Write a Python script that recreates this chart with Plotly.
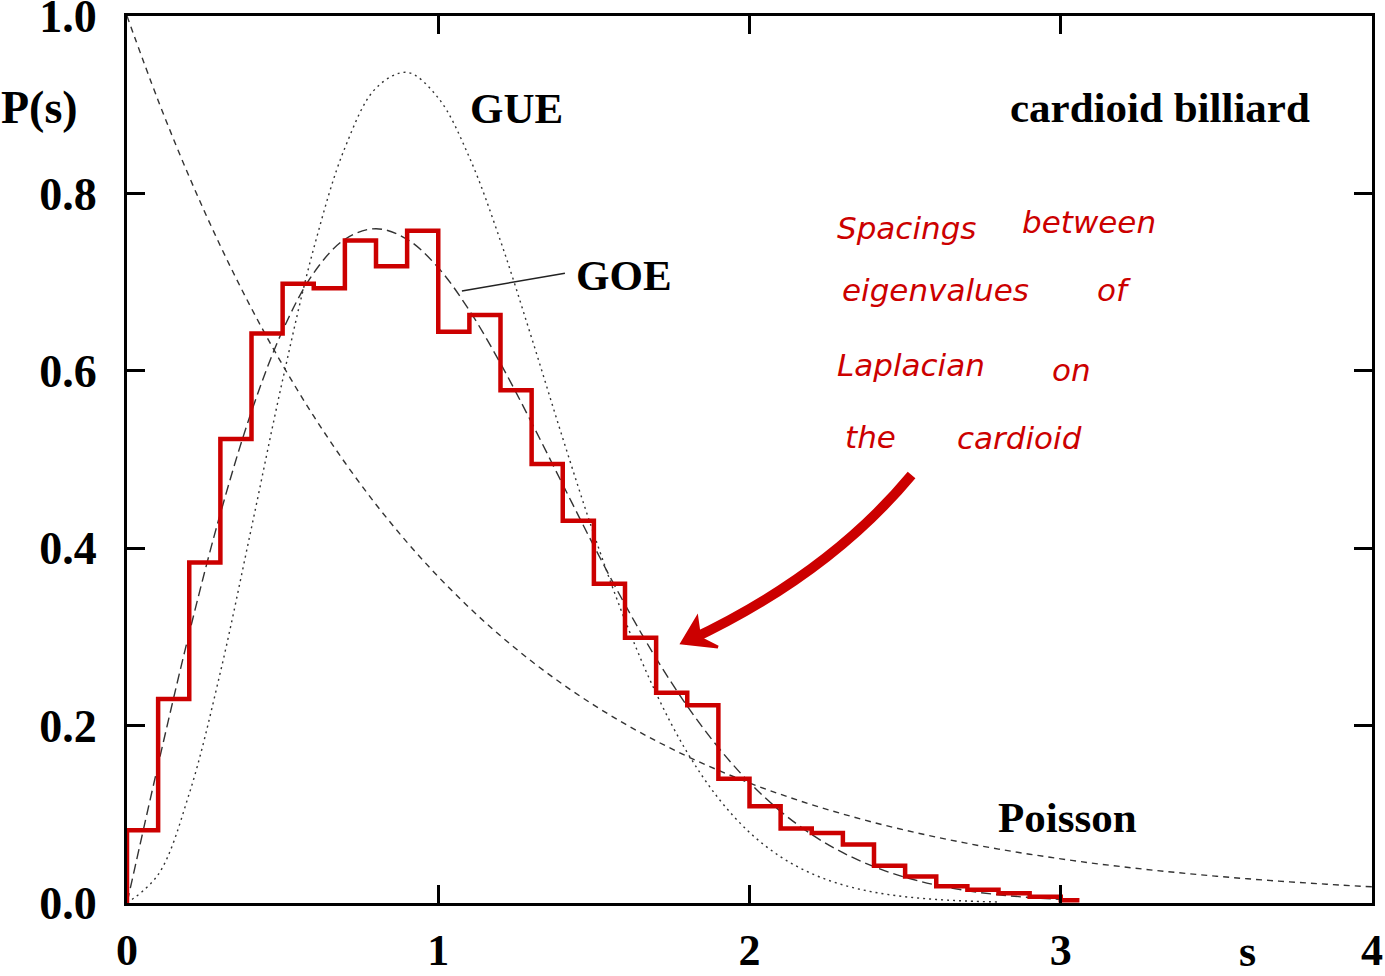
import plotly.graph_objects as go

# ---------------- data ----------------
bin_edges = [round(0.1 * i, 1) for i in range(31)]  # 0.0 .. 3.0
hist_heights = [0.082, 0.230, 0.384, 0.523, 0.642, 0.698, 0.693, 0.747, 0.718, 0.758,
                0.644, 0.663, 0.578, 0.495, 0.431, 0.360, 0.299, 0.237, 0.223, 0.140,
                0.109, 0.084, 0.079, 0.066, 0.042, 0.030, 0.019, 0.015, 0.011, 0.007]
red_tail_x = 3.06
red_tail_y = 0.003

s_poisson = [round(0.1 * i, 1) for i in range(41)]
p_poisson = [1.0, 0.9048, 0.8187, 0.7408, 0.6703, 0.6065, 0.5488, 0.4966, 0.4493, 0.4066,
             0.3679, 0.3329, 0.3012, 0.2725, 0.2466, 0.2231, 0.2019, 0.1827, 0.1653, 0.1496,
             0.1353, 0.1225, 0.1108, 0.1003, 0.0907, 0.0821, 0.0743, 0.0672, 0.0608, 0.0550,
             0.0498, 0.0450, 0.0408, 0.0369, 0.0334, 0.0302, 0.0273, 0.0247, 0.0224, 0.0202,
             0.0183]

s_goe = [round(0.1 * i, 1) for i in range(31)]
p_goe = [0.0, 0.1559, 0.3044, 0.4391, 0.5541, 0.6454, 0.7104, 0.7483, 0.7602, 0.7483,
         0.7162, 0.6680, 0.6083, 0.5415, 0.4718, 0.4025, 0.3365, 0.2759, 0.2220, 0.1753,
         0.1358, 0.1033, 0.0772, 0.0567, 0.0409, 0.0290, 0.0202, 0.0138, 0.0093, 0.0062,
         0.0040]

s_gue = [round(0.1 * i, 1) for i in range(29)]
p_gue = [0.0, 0.0320, 0.1233, 0.2602, 0.4232, 0.5896, 0.7381, 0.8513, 0.9187, 0.9364,
         0.9076, 0.8406, 0.7464, 0.6371, 0.5240, 0.4158, 0.3188, 0.2364, 0.1697, 0.1181,
         0.0796, 0.0521, 0.0331, 0.0204, 0.0122, 0.0071, 0.0040, 0.0022, 0.0011]

x_ticks = [0, 1, 2, 3, 4]
y_ticks = [0.0, 0.2, 0.4, 0.6, 0.8, 1.0]

note_words = ["Spacings", "between", "eigenvalues", "of", "Laplacian", "on", "the", "cardioid"]
note_x = [2.274, 2.869, 2.290, 3.110, 2.274, 2.965, 2.300, 2.660]
note_y = [0.761, 0.768, 0.691, 0.691, 0.6065, 0.601, 0.525, 0.524]

# ---------------- figure ----------------
serif = "Liberation Serif"
ink = "#333333"
red = "#cc0000"

fig = go.Figure()

fig.add_trace(go.Scatter(x=s_poisson, y=p_poisson, mode="lines", line_shape="spline",
                         line=dict(color=ink, width=1.4, dash="6px,5px"), hoverinfo="skip"))
fig.add_trace(go.Scatter(x=s_goe, y=p_goe, mode="lines", line_shape="spline",
                         line=dict(color=ink, width=1.4, dash="10px,5px"), hoverinfo="skip"))
fig.add_trace(go.Scatter(x=s_gue, y=p_gue, mode="lines", line_shape="spline",
                         line=dict(color=ink, width=1.4, dash="2px,4px"), hoverinfo="skip"))

# black histogram (step)
hx = [bin_edges[0]] + bin_edges[:-1] + [bin_edges[-1], bin_edges[-1]]
hy = [0.0] + hist_heights + [hist_heights[-1], 0.0]
fig.add_trace(go.Scatter(x=hx, y=hy, mode="lines", line_shape="hv",
                         line=dict(color="#222222", width=1.6), hoverinfo="skip"))

# red hand-drawn overlay
rx = [bin_edges[0]] + bin_edges[:-1] + [bin_edges[-1], red_tail_x]
ry = [0.0] + hist_heights + [red_tail_y, red_tail_y]
fig.add_trace(go.Scatter(x=rx, y=ry, mode="lines", line_shape="hv",
                         line=dict(color=red, width=4.5), hoverinfo="skip"))

annotations = [
    dict(x=1.25, y=0.896, text="GUE"),
    dict(x=1.596, y=0.707, text="GOE"),
    dict(x=3.318, y=0.897, text="cardioid billiard"),
    dict(x=3.023, y=0.096, text="Poisson"),
]
anns = []
for a in annotations:
    anns.append(dict(x=a["x"], y=a["y"], xref="x", yref="y", text=a["text"], showarrow=False,
                     xanchor="center", yanchor="middle",
                     font=dict(family=serif, size=43, color="black", weight="bold")))
anns.append(dict(x=-0.07, y=0.897, xref="paper", yref="paper", text="P(s)", showarrow=False,
                 xanchor="center", yanchor="middle",
                 font=dict(family=serif, size=46, color="black", weight="bold")))
anns.append(dict(x=3.60, y=-0.055, xref="x", yref="paper", text="s", showarrow=False,
                 xanchor="center", yanchor="middle",
                 font=dict(family=serif, size=44, color="black", weight="bold")))
for w, x, y in zip(note_words, note_x, note_y):
    anns.append(dict(x=x, y=y, xref="x", yref="y", text=w, showarrow=False,
                     xanchor="left", yanchor="middle",
                     font=dict(family="DejaVu Sans", size=31, color=red, style="italic")))

shapes = [
    dict(type="line", xref="x", yref="y", x0=1.076, y0=0.690, x1=1.407, y1=0.710,
         line=dict(color="#222222", width=1.5)),
    # curved arrow shaft
    dict(type="path", xref="x", yref="y",
         path="M 2.5207 0.4825 Q 2.2551 0.3703 1.8086 0.2965",
         line=dict(color=red, width=10), layer="above"),
    # arrow head
    dict(type="path", xref="x", yref="y",
         path="M 1.7829 0.2931 L 1.8310 0.3213 L 1.8400 0.2990 L 1.8985 0.2886 Z",
         line=dict(color=red, width=3), fillcolor=red, layer="above"),
]

fig.update_layout(
    width=1385, height=976,
    margin=dict(l=127, r=13, t=16, b=73, autoexpand=False),
    paper_bgcolor="white", plot_bgcolor="white",
    showlegend=False,
    annotations=anns,
    shapes=shapes,
    xaxis=dict(range=[0, 4], tickvals=x_ticks, ticktext=[str(v) for v in x_ticks],
               automargin=False, ticklabeloverflow="allow",
               showgrid=False, zeroline=False, showline=True, linecolor="black", linewidth=3,
               mirror="ticks", ticks="inside", ticklen=18, tickwidth=3, tickcolor="black",
               ticklabelstandoff=6,
               tickfont=dict(family=serif, size=44, color="black", weight="bold")),
    yaxis=dict(range=[0, 1], tickvals=y_ticks, ticktext=[f"{v:.1f}" for v in y_ticks],
               automargin=False, ticklabeloverflow="allow",
               showgrid=False, zeroline=False, showline=True, linecolor="black", linewidth=3,
               mirror="ticks", ticks="inside", ticklen=18, tickwidth=3, tickcolor="black",
               ticklabelstandoff=18,
               tickfont=dict(family=serif, size=46, color="black", weight="bold")),
)

fig.write_html("out.html", config={"displayModeBar": False},
               post_script="document.body.style.margin='0px';document.body.style.overflow='hidden';")
